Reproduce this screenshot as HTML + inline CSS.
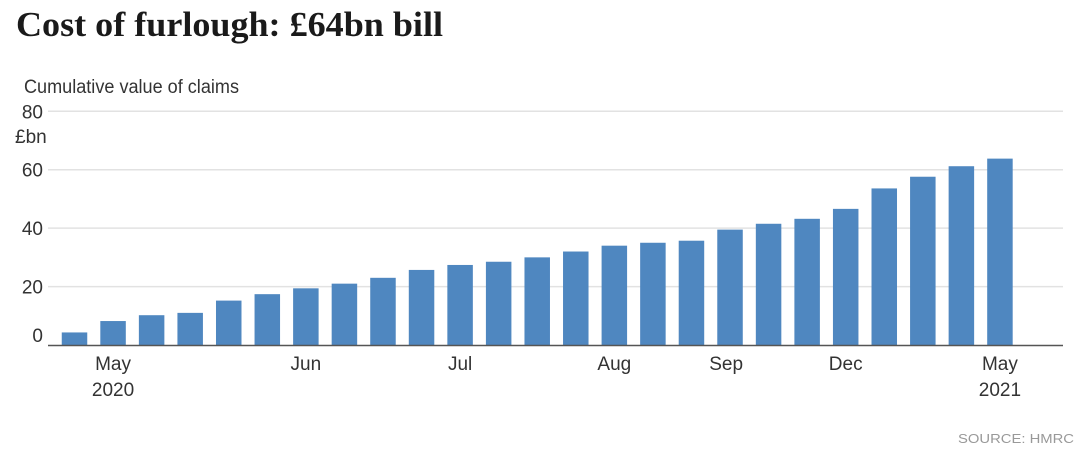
<!DOCTYPE html>
<html><head><meta charset="utf-8"><style>
body{margin:0;background:#fff;width:1080px;height:470px;overflow:hidden;font-family:"Liberation Sans",sans-serif}
</style></head><body>
<svg width="1080" height="470" xmlns="http://www.w3.org/2000/svg">
<text x="16" y="36" font-family="Liberation Serif,serif" font-weight="bold" font-size="35" fill="#1a1a1a" textLength="427" lengthAdjust="spacingAndGlyphs">Cost of furlough: £64bn bill</text>
<text x="24" y="93" font-size="19" fill="#333" textLength="215" lengthAdjust="spacingAndGlyphs">Cumulative value of claims</text>
<g id="grid"></g><g id="bars"></g><g id="xl"></g>
<text x="15" y="143" font-size="19" fill="#333">£bn</text>
<text x="958" y="443" font-size="13" fill="#999" textLength="116" lengthAdjust="spacingAndGlyphs">SOURCE: HMRC</text>
</svg>
<script>
const values=[4.3,8.2,10.2,11,15.2,17.4,19.4,21,23,25.7,27.4,28.5,30,32,34,35,35.7,39.5,41.5,43.2,46.6,53.6,57.6,61.2,63.8];
const yTicks=[0,20,40,60,80];
const xLabels=[{i:1,t:"May",t2:"2020"},{i:6,t:"Jun"},{i:10,t:"Jul"},{i:14,t:"Aug"},{i:16.9,t:"Sep"},{i:20,t:"Dec"},{i:24,t:"May",t2:"2021"}];
const NS="http://www.w3.org/2000/svg";
const y0=345,yPer=(345-111.3)/80,left=48,right=1063,x0=74.5,step=38.56,bw=25.5;
const Y=v=>y0-v*yPer, X=i=>x0+i*step;
function mk(t,a,p){const e=document.createElementNS(NS,t);for(const k in a)e.setAttribute(k,a[k]);p.appendChild(e);return e;}
const g=document.getElementById('grid');
yTicks.forEach(v=>{
 if(v>0){const l=mk('line',{x1:left,x2:right,y1:Y(v),y2:Y(v),stroke:'#e2e2e2','stroke-width':1.5},g);
 
 }
 const t=mk('text',{x:43,y:Y(v)+(v==0?-3:7),'text-anchor':'end','font-size':19,fill:'#333'},g);t.textContent=v;
 
 
});
const b=document.getElementById('bars');
values.forEach((v,i)=>{
 const r=mk('rect',{x:X(i)-bw/2,y:Y(v),width:bw,height:Y(0)-Y(v),fill:'#4f87c0'},b);
 
 
});
const ax=mk('line',{x1:left,x2:right,y1:y0+0.5,y2:y0+0.5,stroke:'#555','stroke-width':1.5},b);


const xl=document.getElementById('xl');
xLabels.forEach(o=>{
 const t=mk('text',{x:X(o.i),y:370,'text-anchor':'middle','font-size':19,fill:'#333'},xl);t.textContent=o.t;
 
 
 if(o.t2){const t2=mk('text',{x:X(o.i),y:396,'text-anchor':'middle','font-size':19,fill:'#333'},xl);t2.textContent=o.t2;
 
 }
});
</script>
</body></html>
